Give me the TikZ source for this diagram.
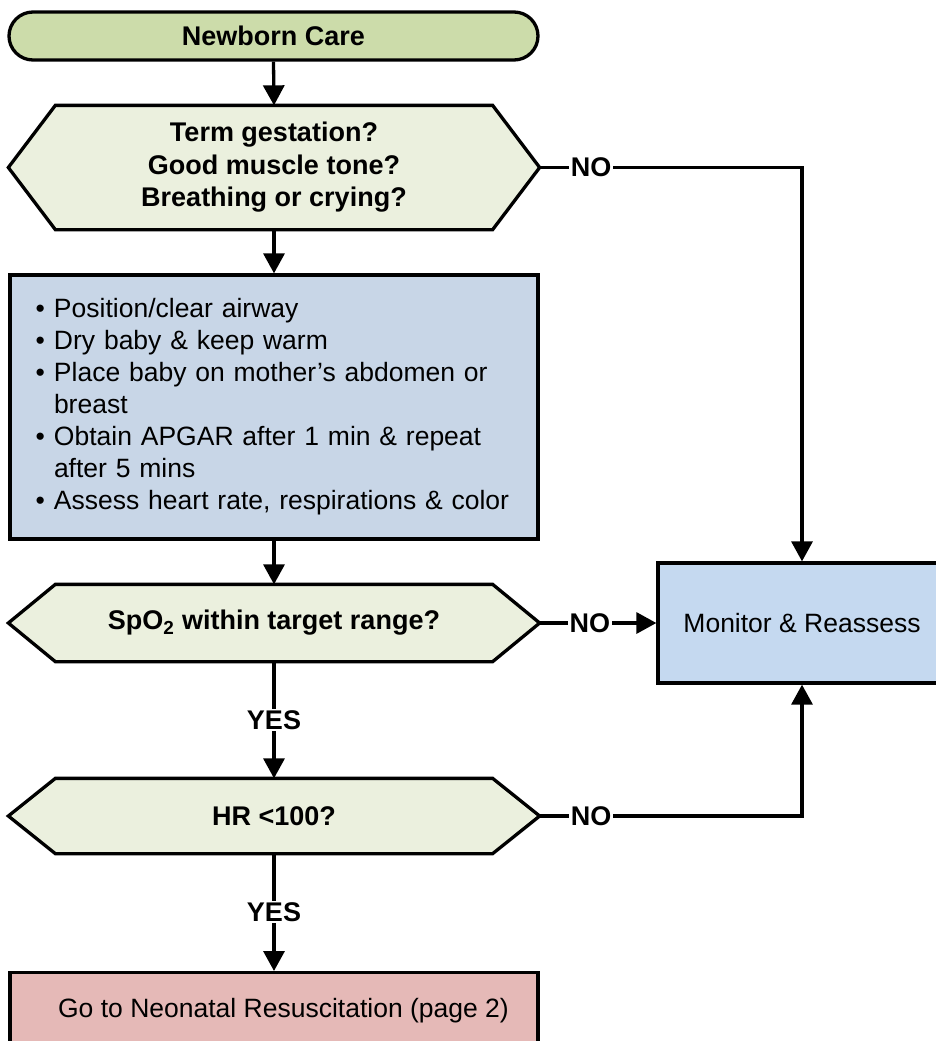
\documentclass[tikz,border=0pt]{standalone}
\usepackage{fontspec}
\setmainfont{Liberation Sans}
\usetikzlibrary{arrows.meta,backgrounds}
\definecolor{startgreen}{RGB}{204,220,170}
\definecolor{askfill}{RGB}{235,240,222}
\definecolor{carefill}{RGB}{200,214,231}
\definecolor{monfill}{RGB}{197,217,240}
\definecolor{gofill}{RGB}{229,185,183}
% bullet with a fixed hanging indent
\newcommand\itembul{\makebox[18.5pt][l]{\textbullet}}
\newcommand\itemcont{\hspace*{18.5pt}}
\begin{document}
\begin{tikzpicture}[x=1pt,y=-1pt,line width=3.3pt,
  arr/.style={-{Triangle[length=20pt,width=21pt]}},
  bigbold/.style={font=\fontsize{27}{32.5}\selectfont\bfseries},
  plain/.style={font=\fontsize{26.5}{32}\selectfont},
  ask/.style={rectangle,inner sep=0pt,minimum width=528pt,align=center,bigbold},
  hexagon/.style={draw=black,line width=3.3pt,fill=askfill,line join=miter},
  lab/.style={fill=white,inner sep=1.5pt,bigbold},
  box/.style={rectangle,draw=black}]
\useasboundingbox (0,0) rectangle (935,1041);

% start terminal
\node[box,fill=startgreen,rounded corners=24pt,minimum width=529pt,minimum height=48pt,
      inner sep=0pt,bigbold] (start) at (273.5,36) {Newborn Care};

% decisions (outlines drawn on the background layer below)
\node[ask,minimum height=121pt] (q1) at (274,167.5)
  {Term gestation?\\Good muscle tone?\\Breathing or crying?};
\node[ask,minimum height=74pt] (q2) at (274,623) {SpO\textsubscript{2} within target range?};
\node[ask,minimum height=72pt] (q3) at (274,816) {HR <100?};

% routine care steps
\node[box,fill=carefill,minimum height=264pt,text width=477pt,inner xsep=25.5pt,
      inner ysep=0pt,align=left,plain] (care) at (274,407)
  {\itembul Position/clear airway\\
   \itembul Dry baby \& keep warm\\
   \itembul Place baby on mother’s abdomen or\\
   \itemcont breast\\
   \itembul Obtain APGAR after 1 min \& repeat\\
   \itemcont after 5 mins\\
   \itembul Assess heart rate, respirations \& color};

\node[box,fill=monfill,minimum width=288pt,minimum height=120pt,plain] (mon) at (802,623)
  {Monitor \& Reassess};

\node[box,fill=gofill,minimum width=528pt,minimum height=76pt,inner sep=0pt,plain,anchor=north]
  (go) at (274,971) {\hspace*{19pt}Go to Neonatal Resuscitation (page 2)};

\begin{scope}[on background layer]
  \foreach \n in {q1,q2,q3}
    \draw[hexagon] (\n.west) -- ([xshift=47pt]\n.north west) -- ([xshift=-47pt]\n.north east)
      -- (\n.east) -- ([xshift=-47pt]\n.south east) -- ([xshift=47pt]\n.south west) -- cycle;
\end{scope}

% connectors
\draw[arr] (start.south) -- (q1.north);
\draw[arr] (q1.south) -- (care.north);
\draw[arr] (care.south) -- (q2.north);
\draw[arr] (q2.south) -- node[lab] (yes1) {YES} (q3.north);
\draw[arr] (q3.south) -- node[lab] (yes2) {YES} (go.north);
\draw[arr] (q1.east) -| node[lab,pos=0.098] (no1) {NO} (mon.north);
\draw[arr] (q2.east) -- node[lab,pos=0.43] (no2) {NO} (mon.west);
\draw[arr] (q3.east) -| node[lab,pos=0.098] (no3) {NO} (mon.south);
\end{tikzpicture}
\end{document}
